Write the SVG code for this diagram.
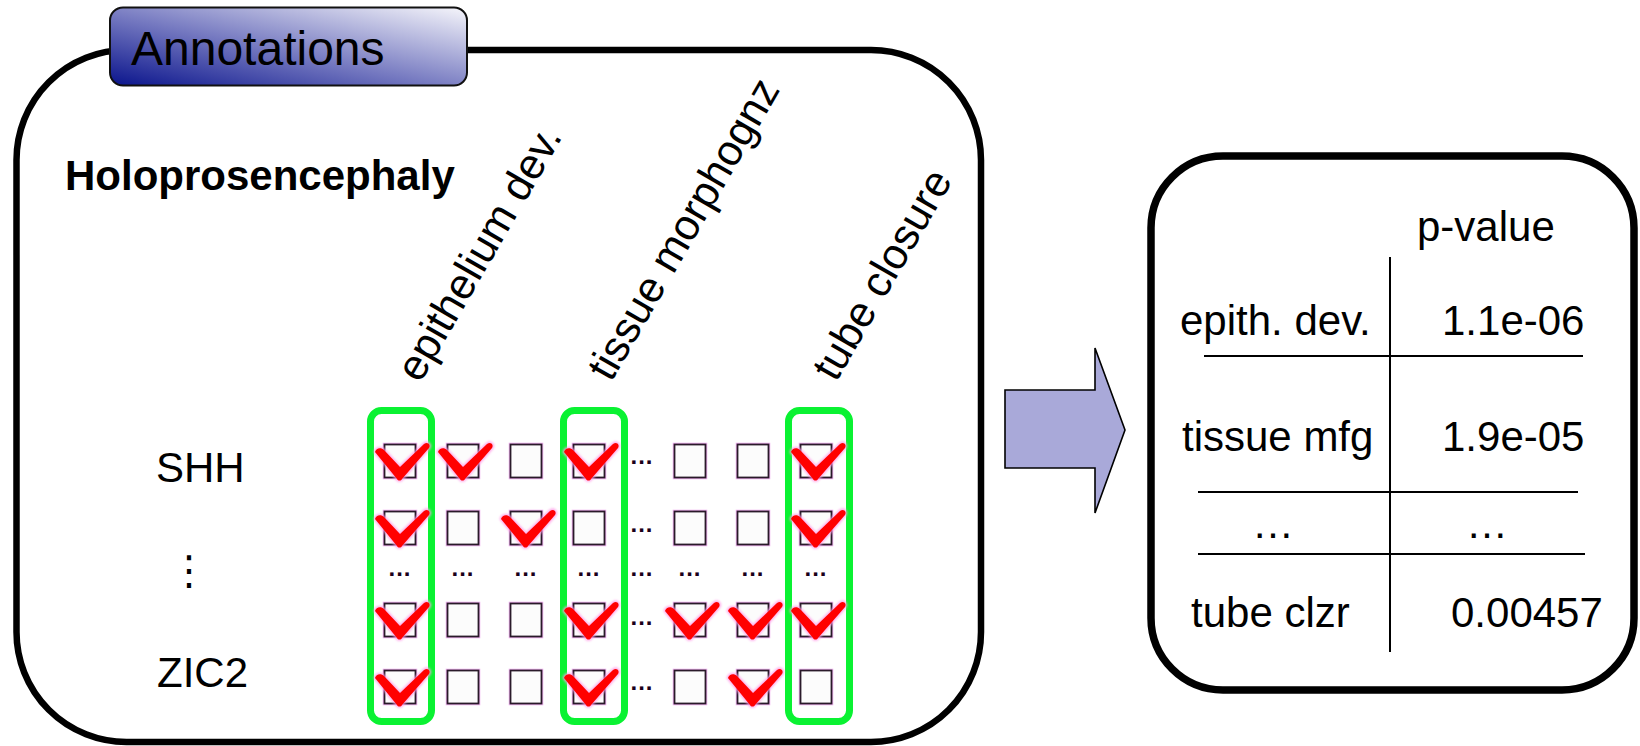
<svg xmlns="http://www.w3.org/2000/svg" xmlns:xlink="http://www.w3.org/1999/xlink" width="1640" height="746" viewBox="0 0 1640 746">
<style>
.t{font-family:"Liberation Sans",Arial,sans-serif;font-size:42px;fill:#000}
.b{font-weight:bold}
.rot{font-size:43px}
.panel{fill:#fff;stroke:#000;stroke-width:6.5}
.grn{fill:none;stroke:#0af232;stroke-width:7}
.cb{fill:#fcfcfc;stroke:#2a1a2a;stroke-width:1.8}
.cbh{fill:none;stroke:#f0b4f0;stroke-width:3.6}
.dots{font-family:"Liberation Sans",Arial,sans-serif;font-size:24px;font-weight:bold;fill:#1a001a;letter-spacing:1px;text-anchor:middle}
.rule{stroke:#000;stroke-width:2;fill:none}
</style>
<defs>
<linearGradient id="tabg" x1="0" y1="1" x2="1" y2="0">
<stop offset="0" stop-color="#0a148c"/>
<stop offset="0.45" stop-color="#7478c0"/>
<stop offset="1" stop-color="#f6f6fb"/>
</linearGradient>
<filter id="glow" x="-20%" y="-20%" width="140%" height="140%">
<feGaussianBlur stdDeviation="1.2"/>
</filter>
<g id="box">
<rect class="cbh" x="0.5" y="0.5" width="31" height="33"/>
<rect class="cb" x="0.5" y="0.5" width="31" height="33"/>
</g>
<g id="ck">
<path d="M -9 8 C -8 4 -3 3 0 6 L 16 23 L 40 0 C 44 -3 47 1 45 4 L 18 35 C 17 37 14 37 13 35 Z" fill="#ff7ce0" stroke="#ff9ee8" stroke-width="3" filter="url(#glow)" opacity="0.8"/>
<path d="M -9 8 C -8 4 -3 3 0 6 L 16 23 L 40 0 C 44 -3 47 1 45 4 L 18 35 C 17 37 14 37 13 35 Z" fill="#ff0000"/>
</g>
</defs>

<g id="annotations-panel">
<rect class="panel" x="16.5" y="50" width="964.5" height="692" rx="110" ry="110"/>
</g>

<g id="annotations-tab">
<rect x="110" y="7.5" width="357" height="78" rx="13" ry="13" fill="url(#tabg)" stroke="#111" stroke-width="2"/>
<text class="t" x="131" y="65" style="font-size:48px">Annotations</text>
</g>

<g id="disease-label">
<text class="t b" x="65" y="190">Holoprosencephaly</text>
</g>

<g id="term-labels">
<text class="t rot" transform="translate(420,384) rotate(-60)">epithelium dev.</text>
<text class="t rot" transform="translate(611,383) rotate(-60)">tissue morphognz</text>
<text class="t rot" transform="translate(836,383) rotate(-60)">tube closure</text>
</g>

<g id="gene-labels">
<text class="t" x="156" y="482">SHH</text>
<text class="t" x="189" y="584" style="font-family:'DejaVu Sans',sans-serif;font-size:40px;text-anchor:middle">⋮</text>
<text class="t" x="157" y="687">ZIC2</text>
</g>

<g id="selected-columns">
<rect class="grn" x="370.5" y="410.5" width="61" height="311" rx="11"/>
<rect class="grn" x="563.5" y="410.5" width="61" height="311" rx="11"/>
<rect class="grn" x="788.5" y="410.5" width="61" height="311" rx="11"/>
</g>

<g id="grid">
<use xlink:href="#box" x="384" y="444"/><use xlink:href="#box" x="447" y="444"/><use xlink:href="#box" x="510" y="444"/><use xlink:href="#box" x="573" y="444"/><use xlink:href="#box" x="674" y="444"/><use xlink:href="#box" x="737" y="444"/><use xlink:href="#box" x="800" y="444"/>
<use xlink:href="#box" x="384" y="511"/><use xlink:href="#box" x="447" y="511"/><use xlink:href="#box" x="510" y="511"/><use xlink:href="#box" x="573" y="511"/><use xlink:href="#box" x="674" y="511"/><use xlink:href="#box" x="737" y="511"/><use xlink:href="#box" x="800" y="511"/>
<use xlink:href="#box" x="384" y="603"/><use xlink:href="#box" x="447" y="603"/><use xlink:href="#box" x="510" y="603"/><use xlink:href="#box" x="573" y="603"/><use xlink:href="#box" x="674" y="603"/><use xlink:href="#box" x="737" y="603"/><use xlink:href="#box" x="800" y="603"/>
<use xlink:href="#box" x="384" y="670"/><use xlink:href="#box" x="447" y="670"/><use xlink:href="#box" x="510" y="670"/><use xlink:href="#box" x="573" y="670"/><use xlink:href="#box" x="674" y="670"/><use xlink:href="#box" x="737" y="670"/><use xlink:href="#box" x="800" y="670"/>

<text class="dots" x="642" y="464">...</text>
<text class="dots" x="642" y="532">...</text>
<text class="dots" x="642" y="625">...</text>
<text class="dots" x="642" y="690">...</text>
<text class="dots" x="400" y="576">...</text>
<text class="dots" x="463" y="576">...</text>
<text class="dots" x="526" y="576">...</text>
<text class="dots" x="589" y="576">...</text>
<text class="dots" x="642" y="576">...</text>
<text class="dots" x="690" y="576">...</text>
<text class="dots" x="753" y="576">...</text>
<text class="dots" x="816" y="576">...</text>

<use xlink:href="#ck" x="384" y="444"/><use xlink:href="#ck" x="447" y="444"/><use xlink:href="#ck" x="573" y="444"/><use xlink:href="#ck" x="800" y="444"/>
<use xlink:href="#ck" x="384" y="511"/><use xlink:href="#ck" x="510" y="511"/><use xlink:href="#ck" x="800" y="511"/>
<use xlink:href="#ck" x="384" y="603"/><use xlink:href="#ck" x="573" y="603"/><use xlink:href="#ck" x="674" y="603"/><use xlink:href="#ck" x="737" y="603"/><use xlink:href="#ck" x="800" y="603"/>
<use xlink:href="#ck" x="384" y="670"/><use xlink:href="#ck" x="573" y="670"/><use xlink:href="#ck" x="737" y="670"/>
</g>

<g id="connectors">
<polygon points="1005,390 1095,390 1095,348 1125,430 1095,513 1095,468 1005,468" fill="#a9a9d9" stroke="#000" stroke-width="1.6" stroke-linejoin="miter"/>
</g>

<g id="pvalue-table">
<rect class="panel" x="1151" y="156" width="483" height="534" rx="72" ry="72" style="stroke-width:7.5"/>
<text class="t" x="1417" y="241">p-value</text>
<line class="rule" x1="1390" y1="257" x2="1390" y2="652"/>
<line class="rule" x1="1204" y1="356" x2="1583" y2="356"/>
<line class="rule" x1="1198" y1="492" x2="1578" y2="492"/>
<line class="rule" x1="1198" y1="554" x2="1585" y2="554"/>
<text class="t" x="1180" y="335">epith. dev.</text>
<text class="t" x="1442" y="335">1.1e-06</text>
<text class="t" x="1182" y="451">tissue mfg</text>
<text class="t" x="1442" y="451">1.9e-05</text>
<text class="t" x="1273" y="538" style="text-anchor:middle">…</text>
<text class="t" x="1487" y="538" style="text-anchor:middle">…</text>
<text class="t" x="1191" y="627">tube clzr</text>
<text class="t" x="1451" y="627">0.00457</text>
</g>
</svg>
